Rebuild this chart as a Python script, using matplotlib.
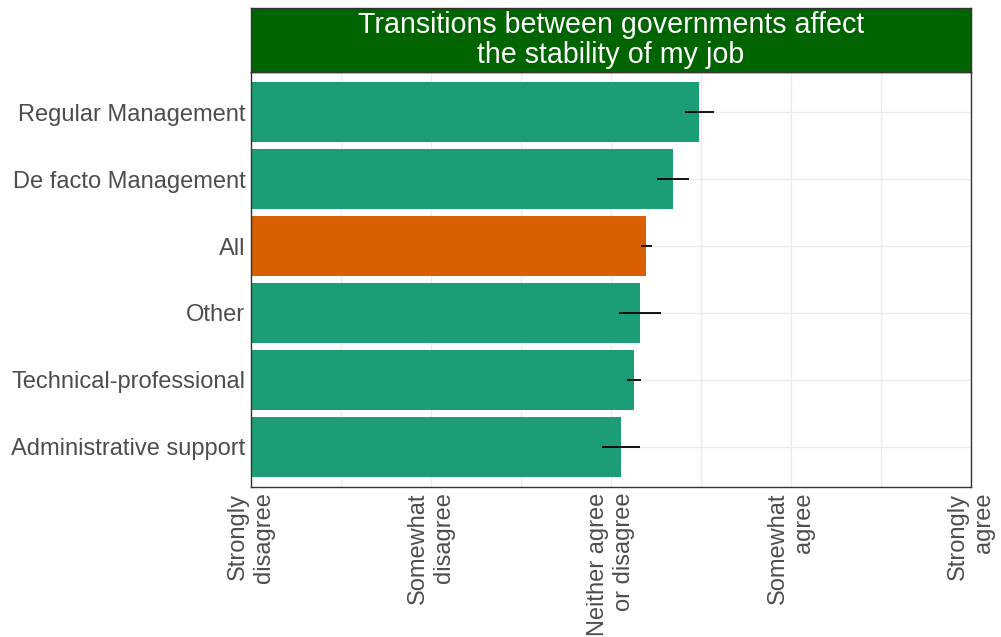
import matplotlib
matplotlib.use("Agg")
import matplotlib.pyplot as plt

plt.rcParams["font.family"] = ["Liberation Sans", "DejaVu Sans"]

# Data (bottom to top)
groups = ["Administrative support", "Technical-professional", "Other",
          "All", "De facto Management", "Regular Management"]
means = [3.054, 3.128, 3.159, 3.196, 3.344, 3.491]
lower = [2.948, 3.089, 3.043, 3.167, 3.256, 3.413]
upper = [3.163, 3.167, 3.279, 3.229, 3.435, 3.572]
bar_colors = ["#1B9E77", "#1B9E77", "#1B9E77", "#D95F02", "#1B9E77", "#1B9E77"]
scale_positions = [1, 2, 3, 4, 5]
scale_labels = ["Strongly\ndisagree", "Somewhat\ndisagree", "Neither agree\nor disagree",
                "Somewhat\nagree", "Strongly\nagree"]
title = "Transitions between governments affect\nthe stability of my job"

W, H = 1001, 637
fig = plt.figure(figsize=(W / 100, H / 100), dpi=100)

# panel geometry in pixels
px_left, px_right, px_top, px_bottom = 251, 971, 72, 487
strip_top = 8
ax = fig.add_axes([px_left / W, 1 - px_bottom / H,
                   (px_right - px_left) / W, (px_bottom - px_top) / H])

ypos = list(range(len(groups)))
ax.barh(ypos, means, height=0.9, color=bar_colors, zorder=2)
for y, lo, hi in zip(ypos, lower, upper):
    ax.plot([lo, hi], [y, y], color="black", lw=1.3, zorder=3, solid_capstyle="butt")

ax.set_xlim(1, 5)
ax.set_ylim(-0.6, len(groups) - 0.4)

ax.set_xticks(scale_positions)
ax.set_xticks([1.5, 2.5, 3.5, 4.5], minor=True)
ax.set_xticklabels(scale_labels, rotation=90, va="top", ha="center",
                   multialignment="right", fontsize=17, color="#4D4D4D",
                   linespacing=1.2)
ax.set_yticks(ypos)
ax.set_yticklabels(groups, fontsize=17, color="#4D4D4D")
ax.tick_params(axis="both", which="both", length=0)
ax.tick_params(axis="x", pad=4)
ax.tick_params(axis="y", pad=4)

ax.grid(True, which="both", color="#EBEBEB", lw=1.0, zorder=0)
ax.set_axisbelow(True)
for s in ax.spines.values():
    s.set_color("#333333")
    s.set_linewidth(1.0)

# facet strip
sax = fig.add_axes([px_left / W, 1 - px_top / H,
                    (px_right - px_left) / W, (px_top - strip_top) / H])
sax.set_xlim(0, 1)
sax.set_ylim(0, 1)
sax.set_xticks([])
sax.set_yticks([])
sax.set_facecolor("#006400")
for s in sax.spines.values():
    s.set_color("#333333")
    s.set_linewidth(1.0)
sax.text(0.5, 0.5, title, ha="center", va="center", color="white",
         fontsize=20.6, linespacing=1.1, transform=sax.transAxes)

fig.savefig("out.png", dpi=100, facecolor="white")
